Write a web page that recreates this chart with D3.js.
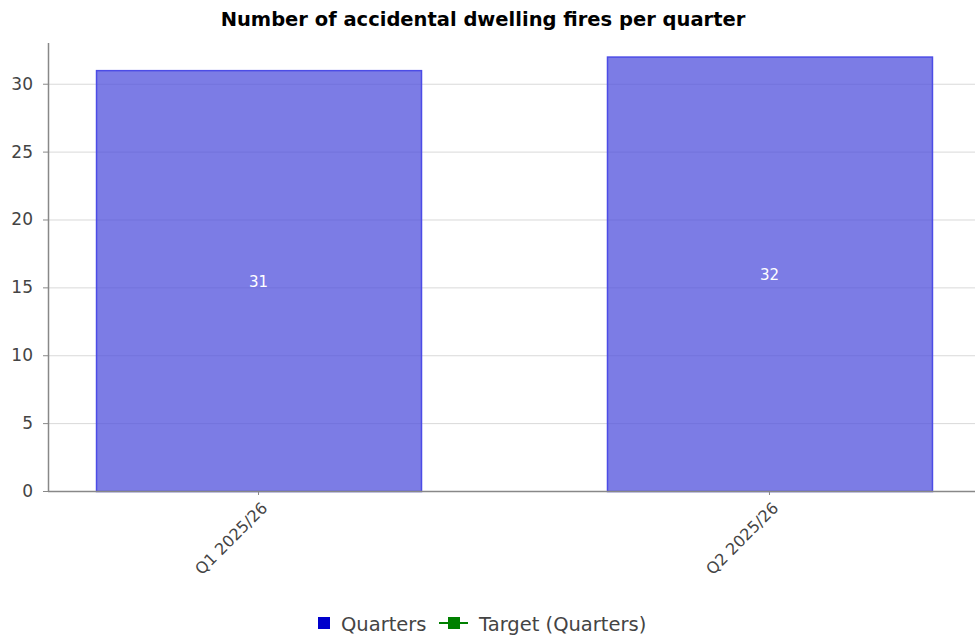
<!DOCTYPE html>
<html><head><meta charset="utf-8">
<script src="https://cdn.jsdelivr.net/npm/d3@7"></script>
<style>body{margin:0;background:#fff}svg{display:block}</style>
</head><body>
<svg id="c" width="975" height="638"></svg>
<script>
const categories = ["Q1 2025/26", "Q2 2025/26"];
const quarters = [31, 32];
const yTicks = [0, 5, 10, 15, 20, 25, 30];
const title = "Number of accidental dwelling fires per quarter";
const legendItems = ["Quarters", "Target (Quarters)"];

(function () {
const svg = d3.select("#c");
const font = "'DejaVu Sans', Verdana, sans-serif";
const pLeft = 48, pRight = 980, pTop = 43, pBottom = 491;

const x = d3.scaleBand().domain(categories).range([pLeft, pRight]).paddingInner(0.364).paddingOuter(0.094).align(0.5);
const y = d3.scaleLinear().domain([0, 33]).range([pBottom, pTop]);

// gridlines
svg.append("g").selectAll("line").data(yTicks).join("line")
  .attr("x1", pLeft).attr("x2", 975).attr("y1", d => y(d) + 0.5).attr("y2", d => y(d) + 0.5)
  .attr("stroke", "#d9d9d9").attr("stroke-width", 1);

// bars
svg.append("g").selectAll("rect").data(quarters).join("rect")
  .attr("x", (d, i) => x(categories[i]) + 0.5)
  .attr("y", d => y(d) + 0.5)
  .attr("width", x.bandwidth())
  .attr("height", d => pBottom - y(d))
  .attr("fill", "rgba(80,80,220,0.75)")
  .attr("stroke", "#4c4ce6").attr("stroke-width", 1.5);

// value labels
svg.append("g").selectAll("text").data(quarters).join("text")
  .attr("x", (d, i) => x(categories[i]) + x.bandwidth() / 2)
  .attr("y", d => (y(d) + pBottom) / 2 + 6)
  .attr("text-anchor", "middle").attr("fill", "#fff")
  .attr("font-family", font).attr("font-size", 15).text(d => d);

// y axis
const ya = svg.append("g").attr("transform", `translate(${pLeft},0)`)
  .call(d3.axisLeft(y).tickValues(yTicks).tickSize(5).tickPadding(10));
ya.select(".domain").attr("d", `M0.5,${pTop}V${pBottom + 1}`).attr("stroke", "#888").attr("stroke-width", 1.5);
ya.selectAll(".tick line").attr("stroke", "#888");
ya.selectAll(".tick text").attr("fill", "#444").attr("font-family", font).attr("font-size", 17);

// x axis
const xa = svg.append("g").attr("transform", `translate(0,${pBottom})`)
  .call(d3.axisBottom(x).tickSize(4).tickSizeOuter(0));
xa.select(".domain").attr("d", `M${pLeft},0.5H975`).attr("stroke", "#888").attr("stroke-width", 1.5);
xa.selectAll(".tick line").attr("stroke", "#888");
xa.selectAll(".tick text").attr("fill", "#444").attr("font-family", font).attr("font-size", 16)
  .attr("text-anchor", "end").attr("dy", "0.35em")
  .attr("transform", "translate(6,14) rotate(-45)").attr("x", 0).attr("y", 0);

// title
svg.append("text").attr("x", 483).attr("y", 26).attr("text-anchor", "middle")
  .attr("font-family", font).attr("font-weight", "bold").attr("font-size", 19.5).attr("fill", "#000").text(title);

// legend
const lg = svg.append("g").attr("font-family", font).attr("font-size", 19.5).attr("fill", "#444");
lg.append("rect").attr("x", 318).attr("y", 617).attr("width", 12).attr("height", 12).attr("fill", "#0000cc");
lg.append("text").attr("x", 341).attr("y", 631).text(legendItems[0]);
lg.append("line").attr("x1", 439).attr("x2", 468).attr("y1", 623).attr("y2", 623).attr("stroke", "#008000").attr("stroke-width", 2);
lg.append("rect").attr("x", 448).attr("y", 617).attr("width", 12).attr("height", 12).attr("fill", "#008000");
lg.append("text").attr("x", 479).attr("y", 631).text(legendItems[1]);
})();
</script>
</body></html>
